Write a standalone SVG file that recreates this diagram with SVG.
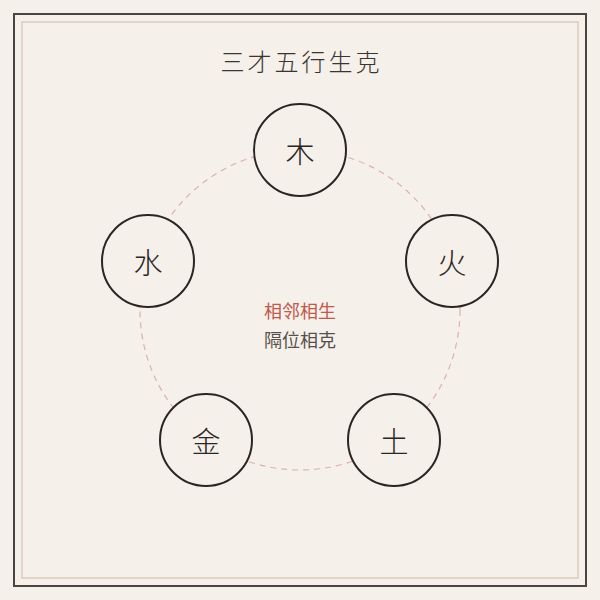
<svg xmlns="http://www.w3.org/2000/svg" width="600" height="600" viewBox="0 0 600 600">
<style>
.node circle{fill:#f5f0ea;stroke:#2b2623;stroke-width:2}
.node text{font-family:"Noto Sans CJK SC","Noto Sans CJK JP",sans-serif;font-size:29px;font-weight:300;fill:#2b2623;text-anchor:middle;dominant-baseline:central}
.title{font-family:"Noto Sans CJK SC",sans-serif;font-size:24px;font-weight:300;fill:#3a3532;text-anchor:middle;letter-spacing:3px}
.mid{font-family:"Noto Sans CJK SC",sans-serif;font-size:18px;font-weight:400;text-anchor:middle}
</style>
<rect width="600" height="600" fill="#f5f0ea"/>
<rect x="14" y="14" width="572" height="572" fill="none" stroke="#4a4540" stroke-width="2"/>
<rect x="22" y="22" width="556" height="556" fill="none" stroke="#e2d5c8" stroke-width="2"/>
<text class="title" x="301.5" y="71">三才五行生克</text>
<g id="connectors">
<circle cx="300" cy="310" r="160" fill="none" stroke="#dcb2aa" stroke-width="1.2" stroke-dasharray="6 5"/>
</g>
<g id="node-mu" class="node"><circle cx="300" cy="150" r="46"/><text x="300" y="150">木</text></g>
<g id="node-huo" class="node"><circle cx="452" cy="261" r="46"/><text x="452" y="261">火</text></g>
<g id="node-tu" class="node"><circle cx="394" cy="440" r="46"/><text x="394" y="440">土</text></g>
<g id="node-jin" class="node"><circle cx="206" cy="440" r="46"/><text x="206" y="440">金</text></g>
<g id="node-shui" class="node"><circle cx="148" cy="261" r="46"/><text x="148" y="261">水</text></g>
<text class="mid" x="300" y="318" fill="#bf5a4c">相邻相生</text>
<text class="mid" x="300" y="347" fill="#55504c">隔位相克</text>
</svg>
